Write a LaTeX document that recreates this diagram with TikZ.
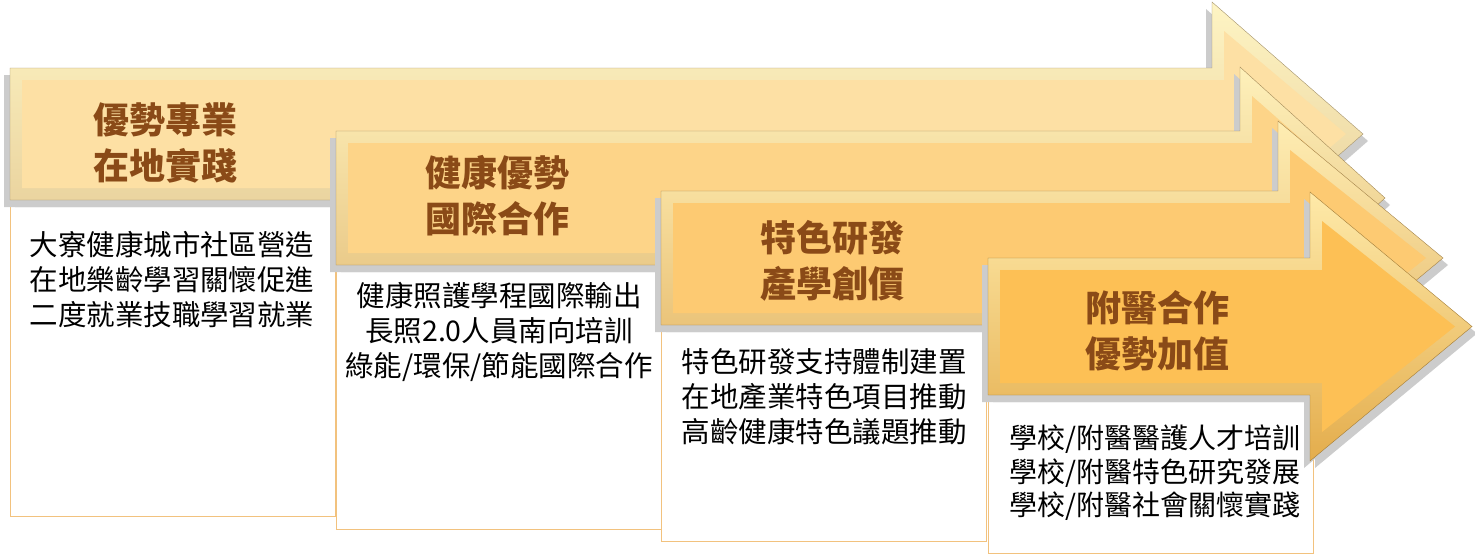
\documentclass[tikz,border=0pt]{standalone}
\usepackage{fontspec}
\setmainfont{Noto Sans CJK TC}
\usepackage{tikz}
\definecolor{arrowA}{HTML}{FDE0A4}
\definecolor{arrowB}{HTML}{FDD488}
\definecolor{arrowC}{HTML}{FDCA72}
\definecolor{arrowD}{HTML}{FDC055}
\definecolor{titlebrown}{HTML}{8A4A17}
\definecolor{boxline}{HTML}{F2C27E}
\tikzset{%
  myshadow/.style={fill=black!20},
  mybox/.style={fill=white, draw=boxline, line width=0.8pt},
  mytitle/.style={align=center, text=titlebrown, font=\fontsize{36}{46}\selectfont\bfseries},
  mytext/.style={align=center, text=black, font=\fontsize{28.5}{35}\selectfont}
}
\begin{document}
\begin{tikzpicture}[x=1pt, y=-1pt]
  \useasboundingbox (0,0) rectangle (1475,554);
  \foreach \L/\T/\B/\S/\HT/\X/\E/\col in {10/68/200/1212/2/1363/516/arrowA,
      336/131/265/1240/67/1385/529/arrowB,
      661/191/325/1278/121/1443/541/arrowC,
      988/258/395/1310/192/1472/553/arrowD} {
    \pgfmathsetmacro\cy{(\T+\B)/2}
    \pgfmathsetmacro\HB{2*\cy-\HT}
    \def\arrowpath{(\L,\T) -- (\S,\T) -- (\S,\HT) -- (\X,\cy) -- (\S,\HB) -- (\S,\B) -- (\L,\B) -- cycle}
    \draw[mybox] (\L,\B) rectangle ({\L+325},\E);
    \fill[myshadow, shift={(-6,7)}] \arrowpath;
    \fill[myshadow, shift={(5,7)}] \arrowpath;
    \shade[top color=\col!75!yellow!45!white, bottom color=\col!90!black,
      draw=\col!65!black, line width=0.4pt] \arrowpath;
    \fill[\col] ({\L+12},{\T+12}) -- ({\S+12},{\T+12}) -- ({\S+12},{\HT+29})
      -- ({\X-17},\cy) -- ({\S+12},{\HB-29}) -- ({\S+12},{\B-12})
      -- ({\L+12},{\B-12}) -- cycle;
  }
  \node[mytitle] (t1) at (165,143) {優勢專業\\在地實踐};
  \node[mytext] (b1) at (172,280) {大寮健康城市社區營造\\在地樂齡學習關懷促進\\二度就業技職學習就業};
  \node[mytitle] (t2) at (497,196) {健康優勢\\國際合作};
  \node[mytext] (b2) at (499,332) {健康照護學程國際輸出\\長照2.0人員南向培訓\\綠能/環保/節能國際合作};
  \node[mytitle] (t3) at (832,261) {特色研發\\產學創價};
  \node[mytext] (b3) at (824,397) {特色研發支持體制建置\\在地產業特色項目推動\\高齡健康特色議題推動};
  \node[mytitle] (t4) at (1157,331) {附醫合作\\優勢加值};
  \node[mytext, font=\fontsize{28}{33.5}\selectfont] (b4) at (1155,473) {學校/附醫醫護人才培訓\\學校/附醫特色研究發展\\學校/附醫社會關懷實踐};
\end{tikzpicture}
\end{document}
